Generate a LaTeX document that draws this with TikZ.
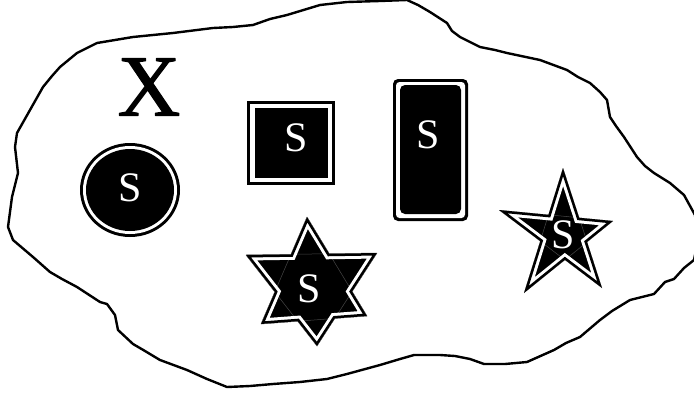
\documentclass[tikz,border=0pt]{standalone}
\usepackage{fontspec}
\setmainfont{Liberation Serif}
\newfontfamily\xmarkfont[FakeBold=1.2]{Liberation Serif}
\begin{document}
\begin{tikzpicture}[x=1pt,y=-1pt,line join=round,
  lbl/.style={text=white,font=\fontsize{42}{42}\selectfont,inner sep=0pt},
  faint/.style={draw=gray!55!black,line width=0.5pt},
  blob/.style={draw=black,line width=2.4pt,line join=round}]
\useasboundingbox (0,0) rectangle (694,394);
\fill[white] (0,0) rectangle (694,394);
% outline of the region
\draw[blob] (347,2) -- (380,1) -- (407,0) -- (418,5) -- (430,12) -- (447,23) -- (452,31) -- (460,37)
 -- (480,47) -- (495,50) -- (507,53) -- (540,60) -- (567,70) -- (578,77) -- (590,83) -- (600,92)
 -- (607,100) -- (610,117) -- (616,126) -- (624,137) -- (637,157) -- (645,166) -- (654,173)
 -- (670,183) -- (684,195) -- (695,215) -- (698,240) -- (694,260) -- (684,268) -- (674,279)
 -- (665,282) -- (654,294) -- (630,300) -- (612,311) -- (600,320) -- (580,337) -- (566,343)
 -- (554,350) -- (527,362) -- (505,364) -- (484,364) -- (470,359) -- (455,356) -- (440,355)
 -- (414,355) -- (400,359) -- (380,365) -- (347,374) -- (327,379) -- (300,382) -- (273,384)
 -- (250,386) -- (227,387) -- (207,379) -- (187,370) -- (160,360) -- (145,351) -- (133,344)
 -- (118,330) -- (115,315) -- (107,304) -- (100,302) -- (77,287) -- (62,279) -- (50,272)
 -- (33,257) -- (13,240) -- (8,227) -- (10,212) -- (12,197) -- (18,173) -- (15,147) -- (17,133)
 -- (30,110) -- (43,87) -- (52,76) -- (60,67) -- (77,53) -- (97,43) -- (115,40) -- (133,37)
 -- (173,33) -- (213,28) -- (233,27) -- (253,25) -- (270,19) -- (287,15) -- (320,5) -- cycle;
% X
\node[font=\xmarkfont\fontsize{87}{87}\selectfont,inner sep=0pt] (xmark) at (149,87) {X};
% circle
\fill[black] (130,190) ellipse [x radius=50pt,y radius=47pt];
\fill[white] (130,190) ellipse [x radius=47pt,y radius=44pt];
\fill[black] (130,190) ellipse [x radius=44pt,y radius=41pt];
\node[lbl] (s1) at (130,188) {S};
% square
\fill[black] (247,101) rectangle (335,185);
\fill[white] (250,104) rectangle (332,182);
\fill[black] (255,108) rectangle (328,178);
\node[lbl] (s2) at (296.5,137.5) {S};
% rounded rectangle
\fill[black,rounded corners=5pt] (393,79) rectangle (468,221);
\fill[white,rounded corners=3.5pt] (396,82) rectangle (465,218);
\fill[black,rounded corners=5pt] (400,85) rectangle (461,214);
\node[lbl] (s3) at (428,135) {S};
% hexagram
\coordinate (U0) at (307,217);
\coordinate (U1) at (261,324);
\coordinate (U2) at (367,316);
\coordinate (D0) at (246,255);
\coordinate (D1) at (377,253);
\coordinate (D2) at (317,346);
\coordinate (X1) at (intersection of U0--U1 and D0--D1);
\coordinate (X2) at (intersection of D0--D2 and U0--U1);
\coordinate (X3) at (intersection of U1--U2 and D0--D2);
\coordinate (X4) at (intersection of D2--D1 and U1--U2);
\coordinate (X5) at (intersection of U2--U0 and D1--D2);
\coordinate (X6) at (intersection of D1--D0 and U0--U2);
\def\hexpath{(U0)--(X1)--(D0)--(X2)--(U1)--(X3)--(D2)--(X4)--(U2)--(X5)--(D1)--(X6)--cycle}
\fill[black] \hexpath;
\draw[faint] (U0)--(U1)--(U2)--cycle;
\draw[faint] (D0)--(D1)--(D2)--cycle;
\begin{scope}
\clip \hexpath;
\draw[white,line width=11pt,line join=miter] \hexpath;
\draw[black,line width=5pt,line join=miter] \hexpath;
\end{scope}
\node[lbl] (s4) at (309,289) {S};
% pentagram
\coordinate (p0) at (563,168);
\coordinate (p1) at (499,210);
\coordinate (p2) at (524,293);
\coordinate (p3) at (602,288);
\coordinate (p4) at (613,221);
\coordinate (q0) at (intersection of p0--p2 and p1--p4);
\coordinate (q1) at (intersection of p1--p3 and p2--p0);
\coordinate (q2) at (intersection of p2--p4 and p3--p1);
\coordinate (q3) at (intersection of p3--p0 and p4--p2);
\coordinate (q4) at (intersection of p4--p1 and p0--p3);
\def\pentpath{(p0)--(q0)--(p1)--(q1)--(p2)--(q2)--(p3)--(q3)--(p4)--(q4)--cycle}
\fill[black] \pentpath;
\draw[faint] (q0)--(q1)--(q2)--(q3)--(q4)--cycle;
\begin{scope}
\clip \pentpath;
\draw[white,line width=11pt,line join=miter] \pentpath;
\draw[black,line width=5pt,line join=miter] \pentpath;
\end{scope}
\node[lbl] (s5) at (563,235) {S};
\end{tikzpicture}
\end{document}
